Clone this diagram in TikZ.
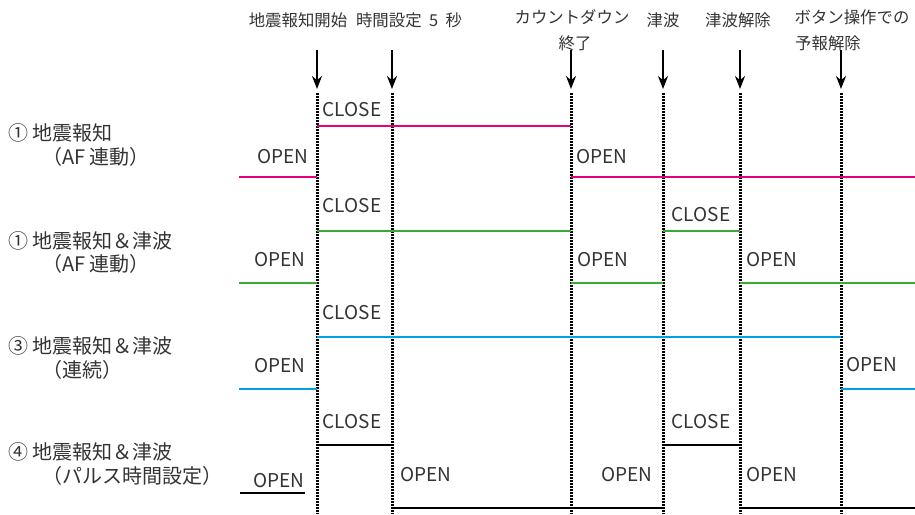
\documentclass[tikz,border=0pt]{standalone}
\usepackage{fontspec}
\setmainfont{Noto Sans CJK JP}
\usetikzlibrary{arrows.meta}
\definecolor{txt}{HTML}{333333}
\definecolor{mag}{HTML}{E4007F}
\definecolor{grn}{HTML}{3AAA35}
\definecolor{cyn}{HTML}{00A0E9}
\tikzset{
  lbl/.style={text=txt, font=\fontsize{19}{19}\selectfont, inner sep=0pt},
  toplbl/.style={text=txt, font=\fontsize{16.4}{16.4}\selectfont, inner sep=0pt},
  rowlbl/.style={text=txt, font=\fontsize{20}{20}\selectfont, inner sep=0pt, anchor=west},
  evarrow/.style={line width=2pt, -{Stealth[length=13pt,width=10pt]}},
  evline/.style={line width=3pt, dash pattern=on 1.8pt off 1.2pt},
  sig/.style={line width=2.2pt}
}
\begin{document}
\begin{tikzpicture}[x=1pt,y=-1pt]
\useasboundingbox (0,0) rectangle (915,514);
% event x positions
\foreach \n/\x in {a/317,b/392,c/571,d/663,e/740,f/841}{
  \coordinate (top\n) at (\x,50);
  \coordinate (tip\n) at (\x,89);
  \coordinate (ds\n) at (\x,93);
  \coordinate (de\n) at (\x,514);
  \draw[evarrow] (top\n) -- (tip\n);
  \draw[evline] (ds\n) -- (de\n);
}
% top labels
\node[toplbl] (ta) at (298,20) {地震報知開始};
\node[toplbl] (tb) at (409,20) {時間設定\hspace{0.45em}5\hspace{0.45em}秒};
\node[toplbl] (tc1) at (572,17) {カウントダウン};
\node[toplbl] (tc2) at (575,43) {終了};
\node[toplbl] (td) at (663,20) {津波};
\node[toplbl] (te) at (738,20) {津波解除};
\node[toplbl] (tf1) at (852,17) {ボタン操作での};
\node[toplbl] (tf2) at (828,43) {予報解除};
% row labels
\node[rowlbl] (r1a) at (8,133) {① 地震報知};
\node[rowlbl] (r1b) at (42,157) {（AF 連動）};
\node[rowlbl] (r2a) at (8,241) {① 地震報知＆津波};
\node[rowlbl] (r2b) at (42,264) {（AF 連動）};
\node[rowlbl] (r3a) at (8,346) {③ 地震報知＆津波};
\node[rowlbl] (r3b) at (42,370) {（連続）};
\node[rowlbl] (r4a) at (8,452) {④ 地震報知＆津波};
\node[rowlbl] (r4b) at (42,476) {（パルス時間設定）};
% row 1
\draw[sig, mag] (239,177) -- (317,177) (317,126) -- (571,126) (571,177) -- (915,177);
\node[lbl] (c1a) at (352,110) {CLOSE};
\node[lbl] (o1a) at (283,157) {OPEN};
\node[lbl] (o1b) at (602,157) {OPEN};
% row 2
\draw[sig, grn] (239,283) -- (317,283) (317,231) -- (571,231) (571,283) -- (663,283) (663,231) -- (740,231) (740,283) -- (915,283);
\node[lbl] (c2a) at (352,206) {CLOSE};
\node[lbl] (o2a) at (280,260) {OPEN};
\node[lbl] (o2b) at (603,260) {OPEN};
\node[lbl] (c2b) at (701,215) {CLOSE};
\node[lbl] (o2c) at (772,260) {OPEN};
% row 3
\draw[sig, cyn] (239,389) -- (317,389) (317,337) -- (841,337) (841,389) -- (915,389);
\node[lbl] (c3a) at (352,313) {CLOSE};
\node[lbl] (o3a) at (280,366) {OPEN};
\node[lbl] (o3b) at (872,365) {OPEN};
% row 4
\draw[line width=1.5pt] (240,493) -- (305,493);
\draw[sig, black] (317,445) -- (392,445) (392,508) -- (663,508) (663,445) -- (740,445) (740,508) -- (915,508);
\node[lbl] (c4a) at (352,422) {CLOSE};
\node[lbl] (o4a) at (279,481) {OPEN};
\node[lbl] (o4b) at (426,475) {OPEN};
\node[lbl] (o4c) at (627,475) {OPEN};
\node[lbl] (c4b) at (701,422) {CLOSE};
\node[lbl] (o4d) at (772,475) {OPEN};
\end{tikzpicture}
\end{document}
